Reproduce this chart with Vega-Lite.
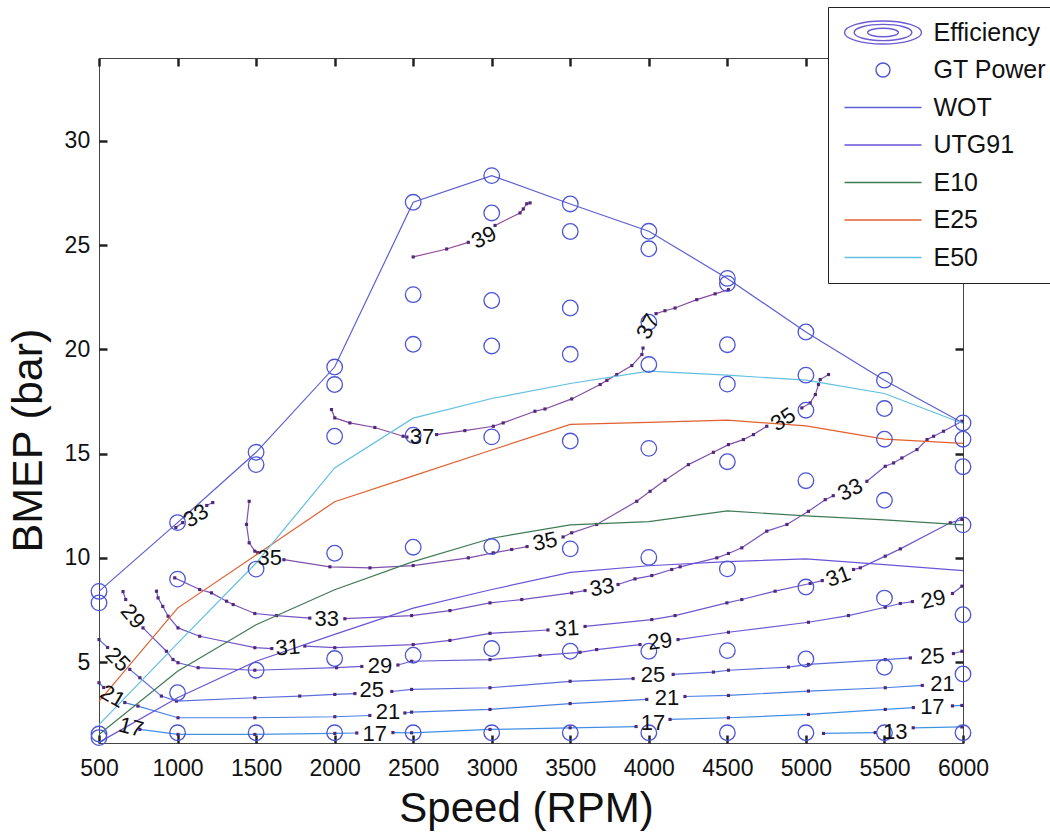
{
  "$schema": "https://vega.github.io/schema/vega-lite/v6.json",
  "width": 864,
  "height": 685,
  "autosize": {"type": "none"},
  "padding": {"left": 99, "top": 58, "right": 87, "bottom": 91},
  "background": "white",
  "datasets": {
    "gt": [
      {"series": "GT Power", "rpm": 500, "bmep": 8.39}, {"series": "GT Power", "rpm": 500, "bmep": 7.84}, {"series": "GT Power", "rpm": 500, "bmep": 1.55}, {"series": "GT Power", "rpm": 500, "bmep": 1.38},
      {"series": "GT Power", "rpm": 1000, "bmep": 11.69}, {"series": "GT Power", "rpm": 1000, "bmep": 8.98}, {"series": "GT Power", "rpm": 1000, "bmep": 3.53}, {"series": "GT Power", "rpm": 1000, "bmep": 1.61},
      {"series": "GT Power", "rpm": 1500, "bmep": 15.06}, {"series": "GT Power", "rpm": 1500, "bmep": 14.47}, {"series": "GT Power", "rpm": 1500, "bmep": 9.46}, {"series": "GT Power", "rpm": 1500, "bmep": 4.61}, {"series": "GT Power", "rpm": 1500, "bmep": 1.61},
      {"series": "GT Power", "rpm": 2000, "bmep": 19.15}, {"series": "GT Power", "rpm": 2000, "bmep": 18.31}, {"series": "GT Power", "rpm": 2000, "bmep": 15.83}, {"series": "GT Power", "rpm": 2000, "bmep": 10.22}, {"series": "GT Power", "rpm": 2000, "bmep": 5.17}, {"series": "GT Power", "rpm": 2000, "bmep": 1.61},
      {"series": "GT Power", "rpm": 2500, "bmep": 27.05}, {"series": "GT Power", "rpm": 2500, "bmep": 22.62}, {"series": "GT Power", "rpm": 2500, "bmep": 20.24}, {"series": "GT Power", "rpm": 2500, "bmep": 15.88}, {"series": "GT Power", "rpm": 2500, "bmep": 10.51}, {"series": "GT Power", "rpm": 2500, "bmep": 5.33}, {"series": "GT Power", "rpm": 2500, "bmep": 1.61},
      {"series": "GT Power", "rpm": 3000, "bmep": 28.33}, {"series": "GT Power", "rpm": 3000, "bmep": 26.54}, {"series": "GT Power", "rpm": 3000, "bmep": 22.34}, {"series": "GT Power", "rpm": 3000, "bmep": 20.16}, {"series": "GT Power", "rpm": 3000, "bmep": 15.8}, {"series": "GT Power", "rpm": 3000, "bmep": 10.54}, {"series": "GT Power", "rpm": 3000, "bmep": 5.65}, {"series": "GT Power", "rpm": 3000, "bmep": 1.61},
      {"series": "GT Power", "rpm": 3500, "bmep": 26.97}, {"series": "GT Power", "rpm": 3500, "bmep": 25.65}, {"series": "GT Power", "rpm": 3500, "bmep": 21.98}, {"series": "GT Power", "rpm": 3500, "bmep": 19.76}, {"series": "GT Power", "rpm": 3500, "bmep": 15.6}, {"series": "GT Power", "rpm": 3500, "bmep": 10.43}, {"series": "GT Power", "rpm": 3500, "bmep": 5.52}, {"series": "GT Power", "rpm": 3500, "bmep": 1.61},
      {"series": "GT Power", "rpm": 4000, "bmep": 25.66}, {"series": "GT Power", "rpm": 4000, "bmep": 24.82}, {"series": "GT Power", "rpm": 4000, "bmep": 21.3}, {"series": "GT Power", "rpm": 4000, "bmep": 19.27}, {"series": "GT Power", "rpm": 4000, "bmep": 15.25}, {"series": "GT Power", "rpm": 4000, "bmep": 10.02}, {"series": "GT Power", "rpm": 4000, "bmep": 5.52}, {"series": "GT Power", "rpm": 4000, "bmep": 1.61},
      {"series": "GT Power", "rpm": 4500, "bmep": 23.4}, {"series": "GT Power", "rpm": 4500, "bmep": 23.15}, {"series": "GT Power", "rpm": 4500, "bmep": 20.22}, {"series": "GT Power", "rpm": 4500, "bmep": 18.33}, {"series": "GT Power", "rpm": 4500, "bmep": 14.61}, {"series": "GT Power", "rpm": 4500, "bmep": 9.47}, {"series": "GT Power", "rpm": 4500, "bmep": 5.55}, {"series": "GT Power", "rpm": 4500, "bmep": 1.61},
      {"series": "GT Power", "rpm": 5000, "bmep": 20.83}, {"series": "GT Power", "rpm": 5000, "bmep": 18.76}, {"series": "GT Power", "rpm": 5000, "bmep": 17.08}, {"series": "GT Power", "rpm": 5000, "bmep": 13.7}, {"series": "GT Power", "rpm": 5000, "bmep": 8.6}, {"series": "GT Power", "rpm": 5000, "bmep": 5.15}, {"series": "GT Power", "rpm": 5000, "bmep": 1.61},
      {"series": "GT Power", "rpm": 5500, "bmep": 18.52}, {"series": "GT Power", "rpm": 5500, "bmep": 17.16}, {"series": "GT Power", "rpm": 5500, "bmep": 15.69}, {"series": "GT Power", "rpm": 5500, "bmep": 12.76}, {"series": "GT Power", "rpm": 5500, "bmep": 8.07}, {"series": "GT Power", "rpm": 5500, "bmep": 4.75}, {"series": "GT Power", "rpm": 5500, "bmep": 1.61},
      {"series": "GT Power", "rpm": 6000, "bmep": 16.47}, {"series": "GT Power", "rpm": 6000, "bmep": 15.69}, {"series": "GT Power", "rpm": 6000, "bmep": 14.37}, {"series": "GT Power", "rpm": 6000, "bmep": 11.58}, {"series": "GT Power", "rpm": 6000, "bmep": 7.27}, {"series": "GT Power", "rpm": 6000, "bmep": 4.43}, {"series": "GT Power", "rpm": 6000, "bmep": 1.61}
    ],
    "curves": [
      {"series": "WOT", "rpm": 500, "bmep": 8.39}, {"series": "WOT", "rpm": 1000, "bmep": 11.69}, {"series": "WOT", "rpm": 1500, "bmep": 15.06}, {"series": "WOT", "rpm": 2000, "bmep": 19.15}, {"series": "WOT", "rpm": 2500, "bmep": 27.05}, {"series": "WOT", "rpm": 3000, "bmep": 28.33}, {"series": "WOT", "rpm": 3500, "bmep": 26.97}, {"series": "WOT", "rpm": 4000, "bmep": 25.66}, {"series": "WOT", "rpm": 4500, "bmep": 23.4}, {"series": "WOT", "rpm": 5000, "bmep": 20.83}, {"series": "WOT", "rpm": 5500, "bmep": 18.52}, {"series": "WOT", "rpm": 6000, "bmep": 16.47},
      {"series": "UTG91", "rpm": 500, "bmep": 1.15}, {"series": "UTG91", "rpm": 1000, "bmep": 3.29}, {"series": "UTG91", "rpm": 1500, "bmep": 5.04}, {"series": "UTG91", "rpm": 2000, "bmep": 6.33}, {"series": "UTG91", "rpm": 2500, "bmep": 7.59}, {"series": "UTG91", "rpm": 3000, "bmep": 8.48}, {"series": "UTG91", "rpm": 3500, "bmep": 9.3}, {"series": "UTG91", "rpm": 4000, "bmep": 9.62}, {"series": "UTG91", "rpm": 4500, "bmep": 9.82}, {"series": "UTG91", "rpm": 5000, "bmep": 9.95}, {"series": "UTG91", "rpm": 5500, "bmep": 9.67}, {"series": "UTG91", "rpm": 6000, "bmep": 9.39},
      {"series": "E10", "rpm": 500, "bmep": 1.53}, {"series": "E10", "rpm": 1000, "bmep": 4.56}, {"series": "E10", "rpm": 1500, "bmep": 6.79}, {"series": "E10", "rpm": 2000, "bmep": 8.47}, {"series": "E10", "rpm": 2500, "bmep": 9.82}, {"series": "E10", "rpm": 3000, "bmep": 10.94}, {"series": "E10", "rpm": 3500, "bmep": 11.58}, {"series": "E10", "rpm": 4000, "bmep": 11.74}, {"series": "E10", "rpm": 4500, "bmep": 12.25}, {"series": "E10", "rpm": 5000, "bmep": 12.01}, {"series": "E10", "rpm": 5500, "bmep": 11.82}, {"series": "E10", "rpm": 6000, "bmep": 11.58},
      {"series": "E25", "rpm": 500, "bmep": 3.12}, {"series": "E25", "rpm": 1000, "bmep": 7.59}, {"series": "E25", "rpm": 1500, "bmep": 10.14}, {"series": "E25", "rpm": 2000, "bmep": 12.69}, {"series": "E25", "rpm": 2500, "bmep": 13.93}, {"series": "E25", "rpm": 3000, "bmep": 15.17}, {"series": "E25", "rpm": 3500, "bmep": 16.4}, {"series": "E25", "rpm": 4000, "bmep": 16.5}, {"series": "E25", "rpm": 4500, "bmep": 16.6}, {"series": "E25", "rpm": 5000, "bmep": 16.33}, {"series": "E25", "rpm": 5500, "bmep": 15.69}, {"series": "E25", "rpm": 6000, "bmep": 15.49},
      {"series": "E50", "rpm": 500, "bmep": 2.0}, {"series": "E50", "rpm": 1000, "bmep": 5.9}, {"series": "E50", "rpm": 1500, "bmep": 9.75}, {"series": "E50", "rpm": 2000, "bmep": 14.31}, {"series": "E50", "rpm": 2500, "bmep": 16.7}, {"series": "E50", "rpm": 3000, "bmep": 17.64}, {"series": "E50", "rpm": 3500, "bmep": 18.36}, {"series": "E50", "rpm": 4000, "bmep": 18.95}, {"series": "E50", "rpm": 4500, "bmep": 18.76}, {"series": "E50", "rpm": 5000, "bmep": 18.52}, {"series": "E50", "rpm": 5500, "bmep": 17.88}, {"series": "E50", "rpm": 6000, "bmep": 16.44}
    ],
    "contours": [
      {"level": 39, "seg": "39a", "rpm": 2500, "bmep": 24.43}, {"level": 39, "seg": "39a", "rpm": 2713, "bmep": 24.81}, {"level": 39, "seg": "39a", "rpm": 2851, "bmep": 25.13},
      {"level": 39, "seg": "39b", "rpm": 3021, "bmep": 25.94}, {"level": 39, "seg": "39b", "rpm": 3180, "bmep": 26.54}, {"level": 39, "seg": "39b", "rpm": 3201, "bmep": 26.73}, {"level": 39, "seg": "39b", "rpm": 3223, "bmep": 26.98}, {"level": 39, "seg": "39b", "rpm": 3244, "bmep": 27.02},
      {"level": 37, "seg": "37a", "rpm": 1980, "bmep": 17.11}, {"level": 37, "seg": "37a", "rpm": 2001, "bmep": 16.71}, {"level": 37, "seg": "37a", "rpm": 2097, "bmep": 16.47}, {"level": 37, "seg": "37a", "rpm": 2256, "bmep": 16.25}, {"level": 37, "seg": "37a", "rpm": 2436, "bmep": 15.83}, {"level": 37, "seg": "37a", "rpm": 2460, "bmep": 15.79},
      {"level": 37, "seg": "37b", "rpm": 2649, "bmep": 15.91}, {"level": 37, "seg": "37b", "rpm": 2829, "bmep": 16.1}, {"level": 37, "seg": "37b", "rpm": 3010, "bmep": 16.31}, {"level": 37, "seg": "37b", "rpm": 3073, "bmep": 16.47}, {"level": 37, "seg": "37b", "rpm": 3275, "bmep": 17.03}, {"level": 37, "seg": "37b", "rpm": 3339, "bmep": 17.14}, {"level": 37, "seg": "37b", "rpm": 3509, "bmep": 17.62}, {"level": 37, "seg": "37b", "rpm": 3690, "bmep": 18.31}, {"level": 37, "seg": "37b", "rpm": 3733, "bmep": 18.51}, {"level": 37, "seg": "37b", "rpm": 3796, "bmep": 18.79}, {"level": 37, "seg": "37b", "rpm": 3892, "bmep": 19.22}, {"level": 37, "seg": "37b", "rpm": 3956, "bmep": 19.75}, {"level": 37, "seg": "37b", "rpm": 3963, "bmep": 20.06},
      {"level": 37, "seg": "37c", "rpm": 4046, "bmep": 21.71}, {"level": 37, "seg": "37c", "rpm": 4103, "bmep": 21.85}, {"level": 37, "seg": "37c", "rpm": 4167, "bmep": 21.98}, {"level": 37, "seg": "37c", "rpm": 4305, "bmep": 22.38}, {"level": 37, "seg": "37c", "rpm": 4422, "bmep": 22.66}, {"level": 37, "seg": "37c", "rpm": 4507, "bmep": 22.86},
      {"level": 35, "seg": "35a", "rpm": 1456, "bmep": 12.71}, {"level": 35, "seg": "35a", "rpm": 1439, "bmep": 11.6}, {"level": 35, "seg": "35a", "rpm": 1456, "bmep": 10.72}, {"level": 35, "seg": "35a", "rpm": 1492, "bmep": 10.32}, {"level": 35, "seg": "35a", "rpm": 1511, "bmep": 10.25},
      {"level": 35, "seg": "35b", "rpm": 1677, "bmep": 9.91}, {"level": 35, "seg": "35b", "rpm": 1970, "bmep": 9.57}, {"level": 35, "seg": "35b", "rpm": 2225, "bmep": 9.52}, {"level": 35, "seg": "35b", "rpm": 2500, "bmep": 9.63}, {"level": 35, "seg": "35b", "rpm": 2851, "bmep": 10.0}, {"level": 35, "seg": "35b", "rpm": 3010, "bmep": 10.24}, {"level": 35, "seg": "35b", "rpm": 3127, "bmep": 10.4}, {"level": 35, "seg": "35b", "rpm": 3225, "bmep": 10.54},
      {"level": 35, "seg": "35c", "rpm": 3454, "bmep": 11.0}, {"level": 35, "seg": "35c", "rpm": 3509, "bmep": 11.2}, {"level": 35, "seg": "35c", "rpm": 3668, "bmep": 11.6}, {"level": 35, "seg": "35c", "rpm": 3923, "bmep": 12.71}, {"level": 35, "seg": "35c", "rpm": 4008, "bmep": 13.19}, {"level": 35, "seg": "35c", "rpm": 4103, "bmep": 13.72}, {"level": 35, "seg": "35c", "rpm": 4252, "bmep": 14.47}, {"level": 35, "seg": "35c", "rpm": 4411, "bmep": 15.06}, {"level": 35, "seg": "35c", "rpm": 4507, "bmep": 15.43}, {"level": 35, "seg": "35c", "rpm": 4602, "bmep": 15.67}, {"level": 35, "seg": "35c", "rpm": 4666, "bmep": 15.91}, {"level": 35, "seg": "35c", "rpm": 4751, "bmep": 16.31},
      {"level": 35, "seg": "35d", "rpm": 4974, "bmep": 17.19}, {"level": 35, "seg": "35d", "rpm": 5027, "bmep": 17.43}, {"level": 35, "seg": "35d", "rpm": 5060, "bmep": 17.83}, {"level": 35, "seg": "35d", "rpm": 5080, "bmep": 18.31}, {"level": 35, "seg": "35d", "rpm": 5091, "bmep": 18.55}, {"level": 35, "seg": "35d", "rpm": 5144, "bmep": 18.79},
      {"level": 33, "seg": "33a", "rpm": 989, "bmep": 11.45}, {"level": 33, "seg": "33a", "rpm": 1033, "bmep": 11.69},
      {"level": 33, "seg": "33b", "rpm": 1186, "bmep": 12.51}, {"level": 33, "seg": "33b", "rpm": 1224, "bmep": 12.65},
      {"level": 33, "seg": "33c", "rpm": 982, "bmep": 9.04}, {"level": 33, "seg": "33c", "rpm": 1141, "bmep": 8.48}, {"level": 33, "seg": "33c", "rpm": 1216, "bmep": 8.32}, {"level": 33, "seg": "33c", "rpm": 1312, "bmep": 7.92}, {"level": 33, "seg": "33c", "rpm": 1354, "bmep": 7.76}, {"level": 33, "seg": "33c", "rpm": 1492, "bmep": 7.33}, {"level": 33, "seg": "33c", "rpm": 1630, "bmep": 7.23}, {"level": 33, "seg": "33c", "rpm": 1842, "bmep": 7.11},
      {"level": 33, "seg": "33d", "rpm": 2065, "bmep": 7.08}, {"level": 33, "seg": "33d", "rpm": 2490, "bmep": 7.23}, {"level": 33, "seg": "33d", "rpm": 2734, "bmep": 7.47}, {"level": 33, "seg": "33d", "rpm": 2989, "bmep": 7.84}, {"level": 33, "seg": "33d", "rpm": 3191, "bmep": 8.0}, {"level": 33, "seg": "33d", "rpm": 3509, "bmep": 8.32}, {"level": 33, "seg": "33d", "rpm": 3594, "bmep": 8.43},
      {"level": 33, "seg": "33e", "rpm": 3804, "bmep": 8.72}, {"level": 33, "seg": "33e", "rpm": 3912, "bmep": 8.99}, {"level": 33, "seg": "33e", "rpm": 4019, "bmep": 9.15}, {"level": 33, "seg": "33e", "rpm": 4146, "bmep": 9.44}, {"level": 33, "seg": "33e", "rpm": 4199, "bmep": 9.57}, {"level": 33, "seg": "33e", "rpm": 4433, "bmep": 10.0}, {"level": 33, "seg": "33e", "rpm": 4507, "bmep": 10.21}, {"level": 33, "seg": "33e", "rpm": 4592, "bmep": 10.48}, {"level": 33, "seg": "33e", "rpm": 4751, "bmep": 11.28}, {"level": 33, "seg": "33e", "rpm": 4879, "bmep": 11.6}, {"level": 33, "seg": "33e", "rpm": 5016, "bmep": 12.23}, {"level": 33, "seg": "33e", "rpm": 5123, "bmep": 12.79}, {"level": 33, "seg": "33e", "rpm": 5174, "bmep": 12.98},
      {"level": 33, "seg": "33f", "rpm": 5388, "bmep": 13.67}, {"level": 33, "seg": "33f", "rpm": 5505, "bmep": 14.39}, {"level": 33, "seg": "33f", "rpm": 5558, "bmep": 14.55}, {"level": 33, "seg": "33f", "rpm": 5611, "bmep": 14.79}, {"level": 33, "seg": "33f", "rpm": 5707, "bmep": 15.19}, {"level": 33, "seg": "33f", "rpm": 5771, "bmep": 15.67}, {"level": 33, "seg": "33f", "rpm": 5813, "bmep": 15.83}, {"level": 33, "seg": "33f", "rpm": 5876, "bmep": 16.07}, {"level": 33, "seg": "33f", "rpm": 5993, "bmep": 16.55},
      {"level": 31, "seg": "31a", "rpm": 866, "bmep": 8.4}, {"level": 31, "seg": "31a", "rpm": 876, "bmep": 8.08}, {"level": 31, "seg": "31a", "rpm": 906, "bmep": 7.67}, {"level": 31, "seg": "31a", "rpm": 940, "bmep": 7.2}, {"level": 31, "seg": "31a", "rpm": 1003, "bmep": 6.64}, {"level": 31, "seg": "31a", "rpm": 1141, "bmep": 6.24}, {"level": 31, "seg": "31a", "rpm": 1492, "bmep": 5.69}, {"level": 31, "seg": "31a", "rpm": 1600, "bmep": 5.65},
      {"level": 31, "seg": "31b", "rpm": 1810, "bmep": 5.77}, {"level": 31, "seg": "31b", "rpm": 2001, "bmep": 5.69}, {"level": 31, "seg": "31b", "rpm": 2500, "bmep": 5.84}, {"level": 31, "seg": "31b", "rpm": 2734, "bmep": 6.04}, {"level": 31, "seg": "31b", "rpm": 2989, "bmep": 6.38}, {"level": 31, "seg": "31b", "rpm": 3358, "bmep": 6.54},
      {"level": 31, "seg": "31c", "rpm": 3594, "bmep": 6.71}, {"level": 31, "seg": "31c", "rpm": 4019, "bmep": 7.04}, {"level": 31, "seg": "31c", "rpm": 4167, "bmep": 7.23}, {"level": 31, "seg": "31c", "rpm": 4497, "bmep": 7.84}, {"level": 31, "seg": "31c", "rpm": 4592, "bmep": 8.0}, {"level": 31, "seg": "31c", "rpm": 4804, "bmep": 8.4}, {"level": 31, "seg": "31c", "rpm": 5027, "bmep": 8.77}, {"level": 31, "seg": "31c", "rpm": 5104, "bmep": 8.91},
      {"level": 31, "seg": "31d", "rpm": 5303, "bmep": 9.44}, {"level": 31, "seg": "31d", "rpm": 5346, "bmep": 9.52}, {"level": 31, "seg": "31d", "rpm": 5505, "bmep": 10.08}, {"level": 31, "seg": "31d", "rpm": 5601, "bmep": 10.43}, {"level": 31, "seg": "31d", "rpm": 5919, "bmep": 11.68}, {"level": 31, "seg": "31d", "rpm": 5993, "bmep": 11.84},
      {"level": 29, "seg": "29a", "rpm": 653, "bmep": 8.38}, {"level": 29, "seg": "29a", "rpm": 670, "bmep": 8.0},
      {"level": 29, "seg": "29b", "rpm": 780, "bmep": 6.64}, {"level": 29, "seg": "29b", "rpm": 929, "bmep": 5.52}, {"level": 29, "seg": "29b", "rpm": 971, "bmep": 5.12}, {"level": 29, "seg": "29b", "rpm": 1003, "bmep": 4.97}, {"level": 29, "seg": "29b", "rpm": 1131, "bmep": 4.73}, {"level": 29, "seg": "29b", "rpm": 1492, "bmep": 4.61}, {"level": 29, "seg": "29b", "rpm": 2012, "bmep": 4.73}, {"level": 29, "seg": "29b", "rpm": 2173, "bmep": 4.79},
      {"level": 29, "seg": "29c", "rpm": 2403, "bmep": 4.86}, {"level": 29, "seg": "29c", "rpm": 2490, "bmep": 5.04}, {"level": 29, "seg": "29c", "rpm": 2989, "bmep": 5.12}, {"level": 29, "seg": "29c", "rpm": 3307, "bmep": 5.32}, {"level": 29, "seg": "29c", "rpm": 3562, "bmep": 5.47}, {"level": 29, "seg": "29c", "rpm": 3668, "bmep": 5.6}, {"level": 29, "seg": "29c", "rpm": 3944, "bmep": 5.84},
      {"level": 29, "seg": "29d", "rpm": 4186, "bmep": 6.08}, {"level": 29, "seg": "29d", "rpm": 4507, "bmep": 6.43}, {"level": 29, "seg": "29d", "rpm": 5016, "bmep": 6.91}, {"level": 29, "seg": "29d", "rpm": 5271, "bmep": 7.23}, {"level": 29, "seg": "29d", "rpm": 5505, "bmep": 7.63}, {"level": 29, "seg": "29d", "rpm": 5601, "bmep": 7.81}, {"level": 29, "seg": "29d", "rpm": 5678, "bmep": 7.9},
      {"level": 29, "seg": "29e", "rpm": 5933, "bmep": 8.29}, {"level": 29, "seg": "29e", "rpm": 5993, "bmep": 8.64},
      {"level": 25, "seg": "25a", "rpm": 500, "bmep": 6.08}, {"level": 25, "seg": "25a", "rpm": 555, "bmep": 5.7},
      {"level": 25, "seg": "25b", "rpm": 696, "bmep": 4.65}, {"level": 25, "seg": "25b", "rpm": 760, "bmep": 4.25}, {"level": 25, "seg": "25b", "rpm": 897, "bmep": 3.37}, {"level": 25, "seg": "25b", "rpm": 993, "bmep": 3.13}, {"level": 25, "seg": "25b", "rpm": 1492, "bmep": 3.29}, {"level": 25, "seg": "25b", "rpm": 1778, "bmep": 3.37}, {"level": 25, "seg": "25b", "rpm": 2001, "bmep": 3.45}, {"level": 25, "seg": "25b", "rpm": 2129, "bmep": 3.49},
      {"level": 25, "seg": "25c", "rpm": 2364, "bmep": 3.59}, {"level": 25, "seg": "25c", "rpm": 2490, "bmep": 3.69}, {"level": 25, "seg": "25c", "rpm": 2989, "bmep": 3.77}, {"level": 25, "seg": "25c", "rpm": 3499, "bmep": 4.08}, {"level": 25, "seg": "25c", "rpm": 3900, "bmep": 4.21},
      {"level": 25, "seg": "25d", "rpm": 4155, "bmep": 4.41}, {"level": 25, "seg": "25d", "rpm": 4411, "bmep": 4.52}, {"level": 25, "seg": "25d", "rpm": 4507, "bmep": 4.61}, {"level": 25, "seg": "25d", "rpm": 4889, "bmep": 4.76}, {"level": 25, "seg": "25d", "rpm": 5016, "bmep": 4.89}, {"level": 25, "seg": "25d", "rpm": 5505, "bmep": 5.12}, {"level": 25, "seg": "25d", "rpm": 5665, "bmep": 5.2},
      {"level": 25, "seg": "25e", "rpm": 5939, "bmep": 5.41}, {"level": 25, "seg": "25e", "rpm": 5993, "bmep": 5.52},
      {"level": 21, "seg": "21a", "rpm": 500, "bmep": 4.01}, {"level": 21, "seg": "21a", "rpm": 530, "bmep": 3.78},
      {"level": 21, "seg": "21b", "rpm": 664, "bmep": 3.06}, {"level": 21, "seg": "21b", "rpm": 748, "bmep": 2.89}, {"level": 21, "seg": "21b", "rpm": 1003, "bmep": 2.33}, {"level": 21, "seg": "21b", "rpm": 1492, "bmep": 2.33}, {"level": 21, "seg": "21b", "rpm": 2001, "bmep": 2.38}, {"level": 21, "seg": "21b", "rpm": 2224, "bmep": 2.44},
      {"level": 21, "seg": "21c", "rpm": 2447, "bmep": 2.56}, {"level": 21, "seg": "21c", "rpm": 2490, "bmep": 2.6}, {"level": 21, "seg": "21c", "rpm": 2989, "bmep": 2.73}, {"level": 21, "seg": "21c", "rpm": 3499, "bmep": 3.01}, {"level": 21, "seg": "21c", "rpm": 3987, "bmep": 3.21},
      {"level": 21, "seg": "21d", "rpm": 4230, "bmep": 3.35}, {"level": 21, "seg": "21d", "rpm": 4507, "bmep": 3.4}, {"level": 21, "seg": "21d", "rpm": 5016, "bmep": 3.61}, {"level": 21, "seg": "21d", "rpm": 5505, "bmep": 3.77}, {"level": 21, "seg": "21d", "rpm": 5741, "bmep": 3.88},
      {"level": 17, "seg": "17a", "rpm": 760, "bmep": 1.77}, {"level": 17, "seg": "17a", "rpm": 1003, "bmep": 1.53}, {"level": 17, "seg": "17a", "rpm": 1492, "bmep": 1.53}, {"level": 17, "seg": "17a", "rpm": 2001, "bmep": 1.58}, {"level": 17, "seg": "17a", "rpm": 2141, "bmep": 1.6},
      {"level": 17, "seg": "17b", "rpm": 2371, "bmep": 1.62}, {"level": 17, "seg": "17b", "rpm": 2490, "bmep": 1.61}, {"level": 17, "seg": "17b", "rpm": 2989, "bmep": 1.77}, {"level": 17, "seg": "17b", "rpm": 3499, "bmep": 1.85}, {"level": 17, "seg": "17b", "rpm": 3919, "bmep": 1.91},
      {"level": 17, "seg": "17c", "rpm": 4135, "bmep": 2.25}, {"level": 17, "seg": "17c", "rpm": 4507, "bmep": 2.33}, {"level": 17, "seg": "17c", "rpm": 5016, "bmep": 2.49}, {"level": 17, "seg": "17c", "rpm": 5505, "bmep": 2.73}, {"level": 17, "seg": "17c", "rpm": 5684, "bmep": 2.82},
      {"level": 17, "seg": "17d", "rpm": 5933, "bmep": 2.9}, {"level": 17, "seg": "17d", "rpm": 5993, "bmep": 2.92},
      {"level": 13, "seg": "13a", "rpm": 5112, "bmep": 1.58}, {"level": 13, "seg": "13a", "rpm": 5441, "bmep": 1.62},
      {"level": 13, "seg": "13b", "rpm": 5683, "bmep": 1.85}, {"level": 13, "seg": "13b", "rpm": 5993, "bmep": 1.89}
    ],
    "labels": [
      {"label": "39", "rpm": 2951, "bmep": 25.36, "angle": -27},
      {"label": "37", "rpm": 2556, "bmep": 15.81, "angle": 0},
      {"label": "37", "rpm": 3995, "bmep": 21.09, "angle": -62},
      {"label": "35", "rpm": 1587, "bmep": 10.0, "angle": 0},
      {"label": "35", "rpm": 3339, "bmep": 10.78, "angle": -12},
      {"label": "35", "rpm": 4855, "bmep": 16.63, "angle": -33},
      {"label": "33", "rpm": 1117, "bmep": 12.02, "angle": -32},
      {"label": "33", "rpm": 1950, "bmep": 7.09, "angle": 0},
      {"label": "33", "rpm": 3702, "bmep": 8.58, "angle": -10},
      {"label": "33", "rpm": 5282, "bmep": 13.27, "angle": -27},
      {"label": "31", "rpm": 1702, "bmep": 5.7, "angle": -5},
      {"label": "31", "rpm": 3479, "bmep": 6.61, "angle": -3},
      {"label": "31", "rpm": 5206, "bmep": 9.1, "angle": -20},
      {"label": "29", "rpm": 715, "bmep": 7.19, "angle": 50},
      {"label": "29", "rpm": 2288, "bmep": 4.79, "angle": 0},
      {"label": "29", "rpm": 4071, "bmep": 5.99, "angle": -8},
      {"label": "29", "rpm": 5812, "bmep": 8.0, "angle": -13},
      {"label": "25", "rpm": 619, "bmep": 5.12, "angle": 45},
      {"label": "25", "rpm": 2236, "bmep": 3.64, "angle": 0},
      {"label": "25", "rpm": 4027, "bmep": 4.39, "angle": 0},
      {"label": "25", "rpm": 5805, "bmep": 5.27, "angle": -3},
      {"label": "21", "rpm": 587, "bmep": 3.35, "angle": 30},
      {"label": "21", "rpm": 2340, "bmep": 2.6, "angle": 0},
      {"label": "21", "rpm": 4116, "bmep": 3.28, "angle": 0},
      {"label": "21", "rpm": 5869, "bmep": 3.97, "angle": 0},
      {"label": "17", "rpm": 704, "bmep": 1.87, "angle": 15},
      {"label": "17", "rpm": 2256, "bmep": 1.53, "angle": 0},
      {"label": "17", "rpm": 4027, "bmep": 2.09, "angle": 0},
      {"label": "17", "rpm": 5805, "bmep": 2.87, "angle": 0},
      {"label": "13", "rpm": 5569, "bmep": 1.67, "angle": 0}
    ]
  },
  "layer": [
    {
      "data": {"name": "contours"},
      "mark": {"type": "line", "strokeWidth": 1.2},
      "encoding": {
        "x": {
          "field": "rpm", "type": "quantitative",
          "scale": {"domain": [500, 6000], "nice": false, "zero": false},
          "axis": {
            "orient": "bottom", "values": [500, 1000, 1500, 2000, 2500, 3000, 3500, 4000, 4500, 5000, 5500, 6000],
            "format": "d", "title": "Speed (RPM)", "titleX": 427, "titleY": 45.5, "titleBaseline": "top", "titleAlign": "center",
            "titleFontSize": 42, "labelFontSize": 23, "labelPadding": 22.5
          }
        },
        "y": {
          "field": "bmep", "type": "quantitative",
          "scale": {"domain": [1.12, 33.97], "nice": false, "zero": false},
          "axis": {
            "orient": "left", "values": [5, 10, 15, 20, 25, 30], "format": "d",
            "title": "BMEP (bar)", "titleX": -48.3, "titleY": 382, "titleAngle": -90, "titleBaseline": "bottom", "titleAlign": "center",
            "titleFontSize": 43, "labelFontSize": 23, "labelPadding": 17.3
          }
        },
        "detail": {"field": "seg"},
        "order": {"value": null},
        "stroke": {
          "field": "level", "type": "ordinal",
          "scale": {
            "domain": [13, 17, 21, 25, 29, 31, 33, 35, 37, 39],
            "range": ["#3f93e6", "#4290e6", "#4a82e2", "#5a6edc", "#6a5cd4", "#7058cc", "#7654c2", "#8052aa", "#864ca2", "#944a9a"]
          },
          "legend": null
        }
      }
    },
    {
      "data": {"name": "contours"},
      "mark": {"type": "square", "size": 10, "color": "#52287a", "opacity": 1},
      "encoding": {
        "x": {
          "field": "rpm", "type": "quantitative",
          "axis": {"orient": "top", "values": [500, 1000, 1500, 2000, 2500, 3000, 3500, 4000, 4500, 5000, 5500, 6000], "labels": false, "title": null}
        },
        "y": {
          "field": "bmep", "type": "quantitative",
          "axis": {"orient": "right", "values": [5, 10, 15, 20, 25, 30], "labels": false, "title": null}
        }
      }
    },
    {
      "data": {"name": "curves"},
      "mark": {"type": "line", "strokeWidth": 1.2},
      "encoding": {
        "x": {"field": "rpm", "type": "quantitative", "axis": null},
        "y": {"field": "bmep", "type": "quantitative", "axis": null},
        "color": {
          "field": "series", "type": "nominal",
          "scale": {
            "domain": ["Efficiency", "GT Power", "WOT", "UTG91", "E10", "E25", "E50"],
            "range": ["#6a5cd2", "#4b55d6", "#5b5fd2", "#6a55d8", "#3f7a55", "#e2602f", "#62bfe0"]
          },
          "legend": {"title": null, "orient": "none", "legendX": 729, "legendY": -51, "zindex": 2}
        }
      }
    },
    {
      "data": {"name": "gt"},
      "mark": {"type": "point", "filled": false, "size": 7344, "strokeWidth": 1.3, "opacity": 1},
      "encoding": {
        "x": {"field": "rpm", "type": "quantitative", "axis": null},
        "y": {"field": "bmep", "type": "quantitative", "axis": null},
        "color": {
          "field": "series", "type": "nominal",
          "scale": {
            "domain": ["Efficiency", "GT Power", "WOT", "UTG91", "E10", "E25", "E50"],
            "range": ["#6a5cd2", "#4b55d6", "#5b5fd2", "#6a55d8", "#3f7a55", "#e2602f", "#62bfe0"]
          },
          "legend": {"title": null, "orient": "none", "legendX": 729, "legendY": -51, "zindex": 2}
        },
        "shape": {
          "field": "series", "type": "nominal",
          "scale": {
            "domain": ["Efficiency", "GT Power", "WOT", "UTG91", "E10", "E25", "E50"],
            "range": [
              "M-1,0A1,0.3 0 1,1 1,0A1,0.3 0 1,1 -1,0Z M-0.75,0A0.75,0.21 0 1,1 0.75,0A0.75,0.21 0 1,1 -0.75,0Z M-0.4,0A0.4,0.11 0 1,1 0.4,0A0.4,0.11 0 1,1 -0.4,0Z",
              "M-0.182,0A0.182,0.182 0 1,1 0.182,0A0.182,0.182 0 1,1 -0.182,0Z",
              "M-1,0H1", "M-1,0H1", "M-1,0H1", "M-1,0H1", "M-1,0H1"
            ]
          },
          "legend": {"title": null, "orient": "none", "legendX": 729, "legendY": -51, "zindex": 2}
        }
      }
    },
    {
      "data": {"name": "labels"},
      "mark": {"type": "text", "fontSize": 22, "font": "Liberation Sans", "color": "#111111", "align": "center", "baseline": "middle"},
      "encoding": {
        "x": {"field": "rpm", "type": "quantitative", "axis": null},
        "y": {"field": "bmep", "type": "quantitative", "axis": null},
        "text": {"field": "label"},
        "angle": {"field": "angle", "type": "quantitative", "scale": null}
      }
    }
  ],
  "resolve": {"axis": {"x": "independent", "y": "independent"}},
  "config": {
    "view": {"stroke": "#444444", "strokeWidth": 1},
    "font": "Liberation Sans",
    "axis": {
      "domain": false, "grid": false, "tickSize": -8, "tickWidth": 2.5, "tickColor": "#222222",
      "labelFont": "Liberation Sans", "labelColor": "#111111", "labelFlush": false, "labelOverlap": false,
      "titleFont": "Liberation Sans", "titleFontWeight": "normal", "titleColor": "#111111", "zindex": 1
    },
    "legend": {
      "strokeColor": "#222222", "fillColor": "#ffffff", "padding": 8,
      "symbolSize": 5929, "symbolStrokeWidth": 1.4, "symbolOffset": 7.5, "symbolFillColor": "transparent",
      "clipHeight": 35, "rowPadding": 2.5, "labelOffset": 11,
      "labelFont": "Liberation Sans", "labelFontSize": 25, "labelColor": "#111111", "labelLimit": 400
    }
  }
}
